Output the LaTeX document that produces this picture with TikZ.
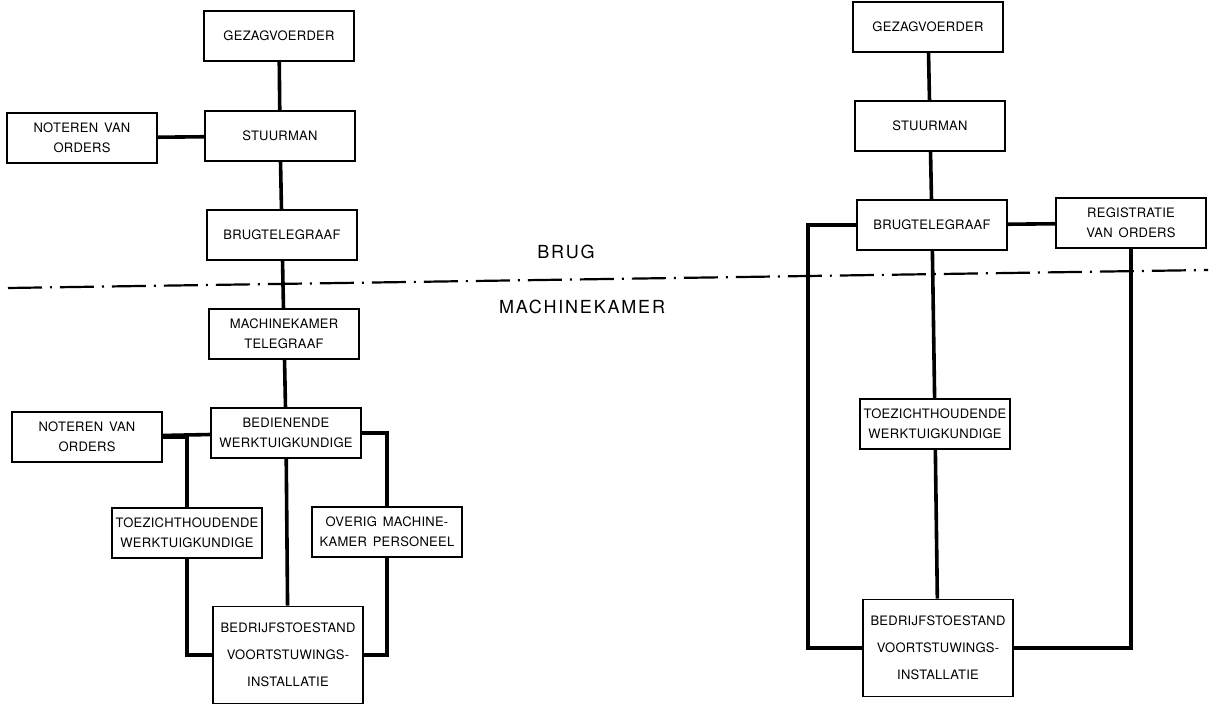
\documentclass[tikz,border=0pt]{standalone}
\usepackage{fontspec}
\setmainfont{TeX Gyre Heros}[LetterSpace=2]
\usetikzlibrary{positioning}

\newcommand{\wsp}{\hspace{0.45em}}

\tikzset{
	post/.style={draw,line width=0.9pt,minimum width=75pt,minimum height=25pt,
		inner sep=1.5pt,align=center,font=\fontsize{6.5}{10}\selectfont},
	tallpost/.style={post,minimum height=48.5pt,font=\fontsize{6.5}{13.5}\selectfont},
	link/.style={line width=1.8pt,line cap=butt,line join=miter},
	grens/.style={line width=1.1pt,dash pattern=on 17pt off 4pt on 1pt off 4pt},
	zone/.style={font=\fontsize{9}{11}\selectfont\addfontfeatures{LetterSpace=10}}
}

\begin{document}
\begin{tikzpicture}[x=0.5pt,y=-0.5pt]
	\useasboundingbox (0,0) rectangle (1215,704);
	
	% scheiding brug / machinekamer
	\coordinate (grensL) at (8,288);
	\coordinate (grensR) at (1208,270);
	\draw[grens] (grensL) -- (grensR);
	\node[zone] (brug) at (566,252) {BRUG};
	\node[zone] (mk) at (582,307) {MACHINEKAMER};
	
	% linker schema
	\node[post] (gezA) at (279,36) {GEZAGVOERDER};
	\node[post] (stuurA) at (280,136) {STUURMAN};
	\node[post] (notA) at (82,138) {NOTEREN\wsp VAN\\ORDERS};
	\node[post] (brugA) at (282,235) {BRUGTELEGRAAF};
	\node[post] (mktel) at (284,334) {MACHINEKAMER\\TELEGRAAF};
	\node[post] (bed) at (286,433) {BEDIENENDE\\WERKTUIGKUNDIGE};
	\node[post] (notB) at (87,437) {NOTEREN\wsp VAN\\ORDERS};
	\node[post] (toezA) at (187,533) {TOEZICHTHOUDENDE\\WERKTUIGKUNDIGE};
	\node[post] (overig) at (387,532) {OVERIG\wsp MACHINE-\\KAMER\wsp PERSONEEL};
	\node[tallpost] (bedrA) at (288,655) {BEDRIJFSTOESTAND\\VOORTSTUWINGS-\\INSTALLATIE};
	
	\draw[link] (gezA) -- (stuurA);
	\draw[link] (notA) -- (stuurA);
	\draw[link] (stuurA) -- (brugA);
	\draw[link] (brugA) -- (mktel);
	\draw[link] (mktel) -- (bed);
	\draw[link] (notB) -- (bed);
	\draw[link] (toezA.north) |- (notB.east);
	\draw[link] (toezA.south) |- (bedrA.west);
	\draw[link] (bed.east) -| (overig.north);
	\draw[link] (overig.south) |- (bedrA.east);
	\draw[link] (bed) -- (bedrA);
	
	% rechter schema
	\node[post] (gezB) at (928,27) {GEZAGVOERDER};
	\node[post] (stuurB) at (930,126) {STUURMAN};
	\node[post] (brugB) at (932,225) {BRUGTELEGRAAF};
	\node[post] (reg) at (1131,223) {REGISTRATIE\\VAN\wsp ORDERS};
	\node[post] (toezB) at (935,424) {TOEZICHTHOUDENDE\\WERKTUIGKUNDIGE};
	\node[tallpost] (bedrB) at (938,648) {BEDRIJFSTOESTAND\\VOORTSTUWINGS-\\INSTALLATIE};
	
	\draw[link] (gezB) -- (stuurB);
	\draw[link] (stuurB) -- (brugB);
	\draw[link] (brugB) -- (reg);
	\draw[link] (brugB) -- (toezB);
	\draw[link] (toezB) -- (bedrB);
	\draw[link] (brugB.west) -- ++(-48,0) |- (bedrB.west);
	\draw[link] (reg.south) |- (bedrB.east);
\end{tikzpicture}
\end{document}
